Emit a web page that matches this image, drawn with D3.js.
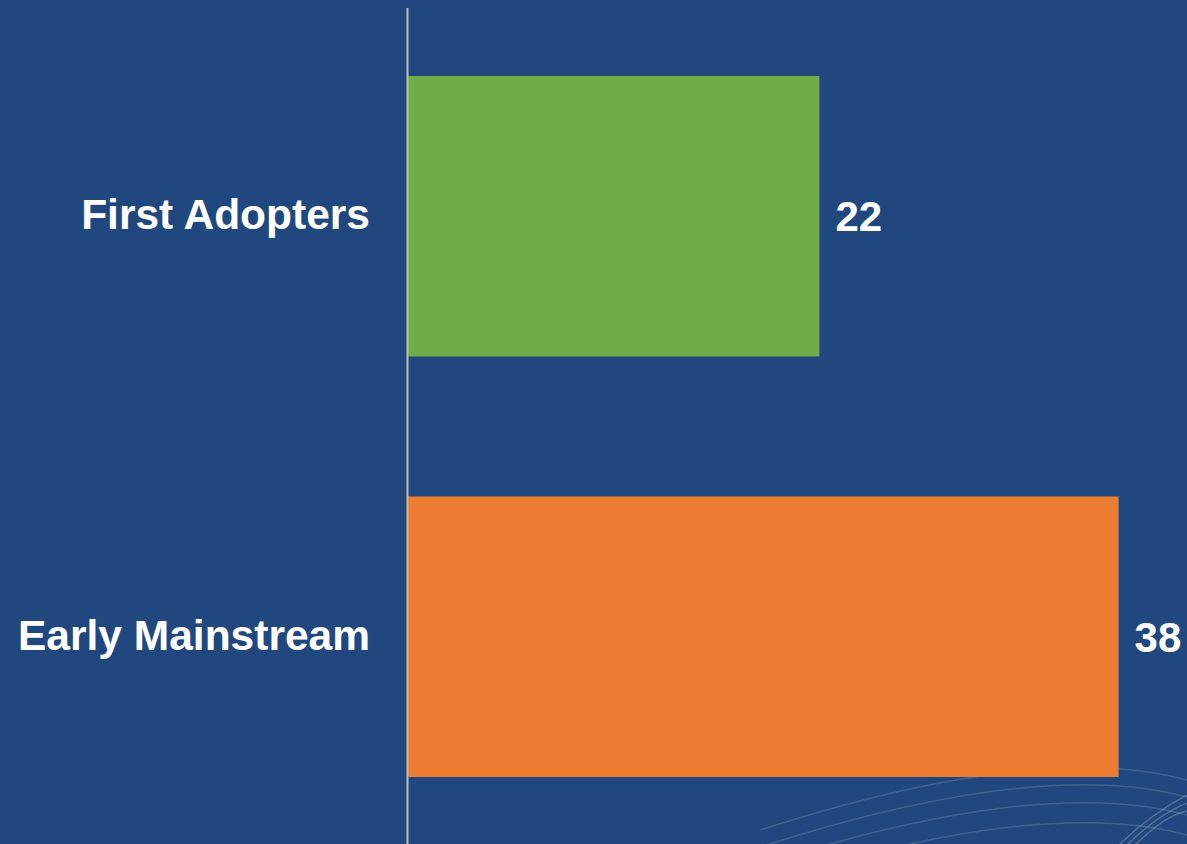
<!DOCTYPE html>
<html>
<head>
<meta charset="utf-8">
<script src="https://cdn.jsdelivr.net/npm/d3@7"></script>
<style>
  html, body { margin: 0; padding: 0; background: #21487E; overflow: hidden; }
  text { font-family: "Liberation Sans", Arial, sans-serif; font-weight: bold; fill: #ffffff; }
</style>
</head>
<body>
<div id="chart"></div>
<script>
// chart data
var categories = ["First Adopters", "Early Mainstream"];
var values = [22, 38];
var barColors = ["#70AD47", "#ED7D31"];

var W = 1187, H = 844;
var axisX = 408;

var svg = d3.select("#chart").append("svg")
    .attr("width", W)
    .attr("height", H);

svg.append("rect").attr("width", W).attr("height", H).attr("fill", "#21487E");

// faint swoosh lines in the bottom right corner (background decoration)
var deco = svg.append("g")
    .attr("fill", "none")
    .attr("stroke", "#ffffff")
    .attr("stroke-opacity", 0.14)
    .attr("stroke-width", 1.5);
[0, 17, 35, 55].forEach(function(off) {
    var p = d3.path();
    p.moveTo(760, 830 + off);
    p.quadraticCurveTo(1040, 740 + off, 1187, 780 + off);
    deco.append("path").attr("d", p.toString());
});
[0, 8, 16].forEach(function(off) {
    var p = d3.path();
    p.moveTo(1120 + off, 844);
    p.quadraticCurveTo(1150 + off, 815, 1187, 795 + off);
    deco.append("path").attr("d", p.toString()).attr("stroke-opacity", 0.22);
});

// scales
var x = d3.scaleLinear().domain([0, 40]).range([axisX, axisX + 748]);
var y = d3.scaleBand().domain(categories).range([76, 777])
    .paddingInner(0.333).paddingOuter(0);

// bars
svg.selectAll("rect.bar")
    .data(values)
    .enter().append("rect")
    .attr("class", "bar")
    .attr("x", x(0))
    .attr("y", function(d, i) { return y(categories[i]); })
    .attr("width", function(d) { return x(d) - x(0); })
    .attr("height", y.bandwidth())
    .attr("fill", function(d, i) { return barColors[i]; });

// vertical axis line
svg.append("line")
    .attr("x1", axisX - 0.5).attr("x2", axisX - 0.5)
    .attr("y1", 8).attr("y2", H)
    .attr("stroke", "#BFBFBF")
    .attr("stroke-width", 2);

// category labels
svg.selectAll("text.cat")
    .data(categories)
    .enter().append("text")
    .attr("class", "cat")
    .attr("x", axisX - 38)
    .attr("y", function(d) { return y(d) + y.bandwidth() / 2 + 13; })
    .attr("text-anchor", "end")
    .style("font-size", "42.5px")
    .text(function(d) { return d; });

// value labels
svg.selectAll("text.val")
    .data(values)
    .enter().append("text")
    .attr("class", "val")
    .attr("x", function(d) { return x(d) + 16; })
    .attr("y", function(d, i) { return y(categories[i]) + y.bandwidth() / 2 + 15; })
    .style("font-size", "42px")
    .text(function(d) { return d; });
</script>
</body>
</html>
